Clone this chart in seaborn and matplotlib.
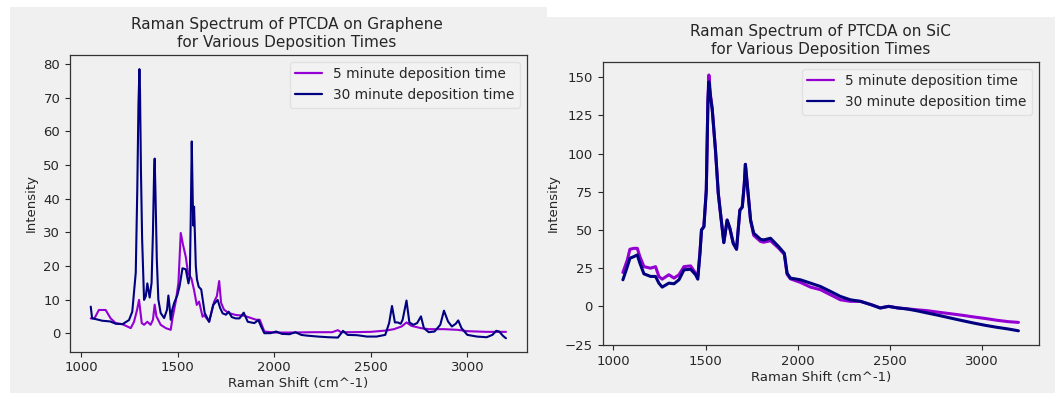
import matplotlib
matplotlib.use("Agg")
import matplotlib.pyplot as plt
from matplotlib.patches import Rectangle
import seaborn as sns

# ---------------- data: PTCDA on graphene ----------------
gr_x_30 = [1050, 1057, 1075, 1110, 1150, 1180, 1215, 1248, 1265, 1283, 1291, 1297, 1302, 1305,
           1310, 1316, 1326, 1335, 1343, 1355, 1365, 1372, 1378, 1381, 1385, 1392, 1400, 1412,
           1430, 1445, 1452, 1458, 1464, 1472, 1482, 1499, 1510, 1525, 1542, 1556, 1563, 1568,
           1573, 1578, 1581, 1585, 1589, 1594, 1600, 1609, 1622, 1640, 1663, 1684, 1707, 1720,
           1733, 1750, 1764, 1780, 1800, 1820, 1842, 1863, 1897, 1918, 1932, 1949, 1980, 2010,
           2040, 2079, 2110, 2140, 2166, 2226, 2280, 2330, 2356, 2380, 2430, 2480, 2530, 2575,
           2595, 2610, 2625, 2640, 2655, 2665, 2685, 2700, 2720, 2740, 2760, 2775, 2800, 2830,
           2860, 2879, 2900, 2920, 2940, 2953, 2970, 3000, 3050, 3100, 3130, 3150, 3165, 3185, 3200]
gr_y_30 = [7.9, 4.4, 4.2, 3.7, 3.5, 2.8, 2.7, 3.9, 6.4, 18, 43, 68, 78.5, 72,
           48, 28, 9.9, 11, 14.8, 10.6, 15, 30, 48, 51.9, 42, 22, 10, 6,
           4.5, 7, 11.2, 8, 4, 7, 9, 11.4, 14, 19.3, 19, 14.8, 17, 35,
           57, 40, 32, 37.6, 30, 20, 16, 13.8, 13, 6, 3.4, 8.4, 9.9, 7.5,
           5.9, 5.5, 6.4, 4.8, 4.4, 4.4, 6.1, 3.4, 3.0, 3.9, 2.0, 0, 0, 0.5,
           -0.2, -0.3, 0.3, -0.5, -0.7, -1.0, -1.2, -1.3, 0.7, -0.5, -0.6, -1.0, -1.0, -0.5,
           3, 8.1, 3.2, 3.2, 2.8, 4, 9.7, 3.2, 2.5, 3, 5, 1.5, 0.3, 0.5,
           2.5, 6.7, 3.5, 2.0, 2.8, 3.8, 1.5, -0.5, -1.0, -1.2, -0.5, 0.7, 0.5, -0.8, -1.5]

gr_x_5 = [1050, 1070, 1092, 1127, 1153, 1179, 1213, 1239, 1257, 1274, 1290, 1300, 1308, 1314,
          1326, 1343, 1360, 1372, 1381, 1390, 1412, 1439, 1464, 1473, 1490, 1504, 1516, 1528,
          1542, 1554, 1571, 1585, 1599, 1611, 1629, 1637, 1663, 1689, 1703, 1715, 1725, 1740,
          1764, 1802, 1845, 1880, 1906, 1925, 1949, 2000, 2100, 2200, 2300, 2330, 2345, 2400,
          2500, 2580, 2620, 2660, 2685, 2710, 2760, 2800, 2880, 2950, 3000, 3100, 3200]
gr_y_5 = [4.4, 4.5, 6.9, 6.9, 4.4, 3.0, 2.7, 2.0, 1.5, 3.4, 7, 9.9, 6, 3.0,
          2.5, 3.4, 2.5, 4, 8.5, 5, 2.5, 1.5, 1.0, 4.4, 9.4, 15, 29.8, 26.2,
          22.7, 17.8, 16.3, 12.8, 8.4, 9.4, 4.9, 5.4, 3.4, 9.4, 11, 15.5, 9, 7,
          6, 5.4, 5.2, 4.5, 4.0, 4.0, 0.5, 0.2, 0.2, 0.3, 0.3, 0.9, 0.3, 0.3,
          0.4, 0.8, 1.2, 2.0, 3.2, 2.2, 1.5, 1.2, 1.2, 1.0, 0.6, 0.4, 0.4]

# ---------------- data: PTCDA on SiC ----------------
sic_x = [1052, 1076, 1090, 1112, 1130, 1144, 1166, 1202, 1229, 1247, 1265, 1301, 1329, 1356,
         1383, 1419, 1446, 1458, 1470, 1478, 1491, 1504, 1513, 1518, 1527, 1536, 1554, 1569,
         1581, 1599, 1617, 1632, 1650, 1668, 1686, 1699, 1710, 1716, 1729, 1744, 1761, 1798,
         1815, 1852, 1897, 1927, 1942, 1960, 2014, 2069, 2123, 2177, 2231, 2285, 2339, 2400,
         2447, 2492, 2540, 2592, 2650, 2700, 2760, 2826, 2890, 2952, 3020, 3079, 3140, 3196]
sic_y_30 = [17.4, 26, 31.5, 32.6, 33.7, 28.3, 21.3, 19.6, 19.6, 15.2, 12.6, 15.2, 14.8, 17.4,
            23.9, 24.3, 20.7, 17.8, 35, 50, 52.2, 76, 134.8, 147, 137, 129.3, 102, 74,
            60.9, 41.7, 56.5, 51, 41.3, 37.4, 63, 65, 80, 93, 76, 56.5, 47.9, 43.9,
            43.5, 44.6, 39, 34.8, 21.7, 18.5, 17.4, 15.2, 13, 9.8, 6.5, 4.3, 3.3, 1,
            -1.1, 0, -1, -1.7, -3, -4.3, -5.8, -7.6, -9.3, -10.9, -12.5, -13.7, -14.8, -16]
sic_y_5 = [22.2, 30.4, 37.4, 38, 38, 32.6, 26, 25, 26, 19.6, 17.8, 20.7, 18.5, 20.7,
           26, 26.5, 21.7, 19.6, 36, 50, 52.2, 76, 136, 151.5, 138, 129.3, 102, 74,
           61, 42, 56.5, 51, 41.3, 37.4, 63, 65, 80, 93, 76, 56.5, 46.5, 42.5,
           42, 43, 38, 34, 21, 18, 15.7, 12.6, 10.9, 7.6, 4.3, 3.3, 3.3, 1,
           -1, 0, -1, -1.6, -2.3, -2.8, -3.8, -4.8, -5.8, -6.9, -8, -9.1, -10, -10.5]

labels = ["5 minute deposition time", "30 minute deposition time"]
titles = ["Raman Spectrum of PTCDA on Graphene\nfor Various Deposition Times",
          "Raman Spectrum of PTCDA on SiC\nfor Various Deposition Times"]
xlabel = "Raman Shift (cm^-1)"
ylabel = "Intensity"

sns.set_style("ticks")
plt.rcParams["font.family"] = ["DejaVu Sans"]
TXT = "#262626"
plt.rcParams.update({"text.color": TXT, "axes.labelcolor": TXT,
                     "xtick.color": TXT, "ytick.color": TXT})

W, H = 1055, 393
fig = plt.figure(figsize=(W / 100, H / 100), dpi=100, facecolor="white")
BG = "#f0f0f0"
fig.patches.append(Rectangle((10 / W, 0), 537 / W, (H - 7) / H, transform=fig.transFigure,
                             facecolor=BG, edgecolor="none", zorder=-10))
fig.patches.append(Rectangle((547 / W, 0), 508 / W, (H - 17) / H, transform=fig.transFigure,
                             facecolor=BG, edgecolor="none", zorder=-10))

def px_axes(l, t, r, b):
    return fig.add_axes([l / W, 1 - b / H, (r - l) / W, (b - t) / H])

ax1 = px_axes(70, 55, 526.7, 351.7)
ax2 = px_axes(602.7, 62, 1039, 345)

C5, C30 = "#9400d3", "#000080"
FS = 9.5
LFS = 9.8

sns.lineplot(x=gr_x_5, y=gr_y_5, ax=ax1, color=C5, lw=1.5, label=labels[0])
sns.lineplot(x=gr_x_30, y=gr_y_30, ax=ax1, color=C30, lw=1.5, label=labels[1])
sns.lineplot(x=sic_x, y=sic_y_5, ax=ax2, color=C5, lw=2.2, label=labels[0])
sns.lineplot(x=sic_x, y=sic_y_30, ax=ax2, color=C30, lw=2.2, label=labels[1])

for ax, title, tx in zip([ax1, ax2], titles, [0.474, 0.5]):
    ax.set_facecolor(BG)
    ax.set_title(title, fontsize=11, color=TXT, x=tx)
    ax.set_xlabel(xlabel, fontsize=FS, labelpad=2)
    ax.set_ylabel(ylabel, fontsize=FS)
    ax.tick_params(labelsize=FS, length=3.5, width=0.8)
    for s in ax.spines.values():
        s.set_visible(True)
        s.set_color("#333333")
        s.set_linewidth(0.9)
    ax.set_xticks([1000, 1500, 2000, 2500, 3000])
    leg = ax.legend(loc="upper right", fontsize=LFS, frameon=True)
    leg.get_frame().set_facecolor("#f3f3f3")
    leg.get_frame().set_edgecolor("#dddddd")
    for h in leg.get_lines():
        h.set_linewidth(1.6)

ax1.set_xlim(942.5, 3307.5)
ax1.set_ylim(-5.5, 82.7)
ax2.set_xlim(942.5, 3307.5)
ax2.set_yticks([-25, 0, 25, 50, 75, 100, 125, 150])
ax2.set_ylim(-25.3, 160)

fig.savefig("out.png", dpi=100, facecolor="white")
